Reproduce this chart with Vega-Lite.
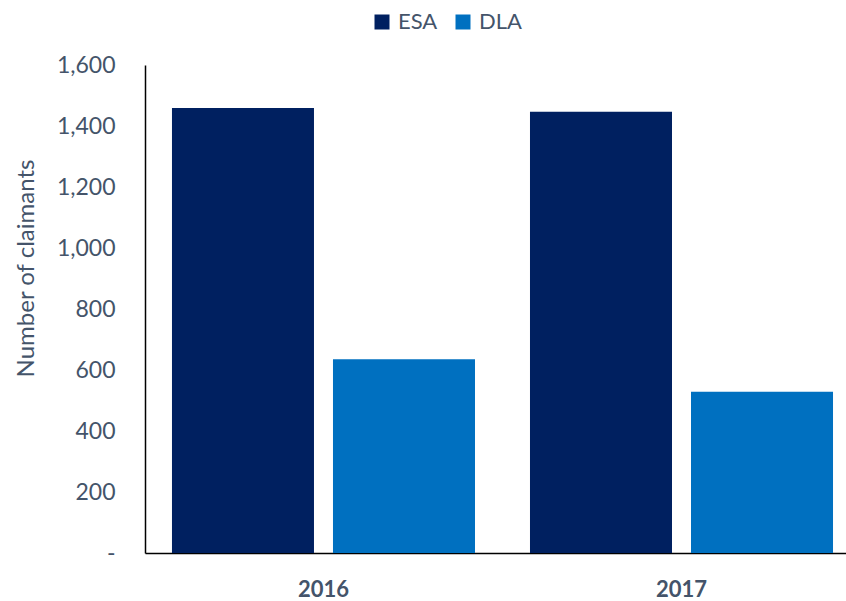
{
  "$schema": "https://vega.github.io/schema/vega-lite/v6.json",
  "autosize": {"type": "none"},
  "padding": {"left": 145, "top": 65, "right": 0, "bottom": 48},
  "width": 701,
  "height": 488,
  "background": "white",
  "config": {
    "view": {"stroke": null},
    "font": "Lato",
    "axis": {"labelFont": "Lato", "titleFont": "Lato"},
    "legend": {"labelFont": "Lato"}
  },
  "data": {
    "values": [
      {"year": "2016", "series": "ESA", "value": 1459},
      {"year": "2016", "series": "DLA", "value": 635},
      {"year": "2017", "series": "ESA", "value": 1447},
      {"year": "2017", "series": "DLA", "value": 529}
    ]
  },
  "mark": {"type": "bar"},
  "encoding": {
    "x": {
      "field": "year",
      "type": "nominal",
      "scale": {"paddingInner": 0.1536, "paddingOuter": 0.0558, "align": 0.675},
      "axis": {
        "title": null,
        "labelAngle": 0,
        "labelFontWeight": "bold",
        "labelFontSize": 22,
        "labelColor": "#44546A",
        "labelPadding": 26,
        "ticks": false,
        "domainColor": "#000000",
        "domainWidth": 1.5
      }
    },
    "xOffset": {
      "field": "series",
      "type": "nominal",
      "sort": ["ESA", "DLA"],
      "scale": {"paddingInner": 0.118, "paddingOuter": 0}
    },
    "y": {
      "field": "value",
      "type": "quantitative",
      "scale": {"domain": [0, 1600], "nice": false},
      "axis": {
        "values": [0, 200, 400, 600, 800, 1000, 1200, 1400, 1600],
        "labelExpr": "datum.value == 0 ? '-\u00a0\u00a0\u00a0' : format(datum.value, ',')",
        "grid": false,
        "ticks": false,
        "labelPadding": 30,
        "labelFontSize": 23,
        "labelColor": "#44546A",
        "domainColor": "#000000",
        "domainWidth": 1.5,
        "title": "Number  of claimants",
        "titleFontSize": 24,
        "titleFontWeight": "normal",
        "titleColor": "#44546A",
        "titleAngle": -90,
        "titleX": -112,
        "titleY": 203,
        "titleAlign": "center",
        "titleBaseline": "alphabetic"
      }
    },
    "color": {
      "field": "series",
      "type": "nominal",
      "scale": {"domain": ["ESA", "DLA"], "range": ["#002060", "#0070C0"]},
      "legend": {
        "title": null,
        "orient": "none",
        "direction": "horizontal",
        "legendX": 226,
        "legendY": -54,
        "symbolType": "square",
        "symbolSize": 225,
        "symbolStrokeWidth": 0,
        "labelFontSize": 22,
        "labelColor": "#44546A",
        "labelOffset": 5,
        "columnPadding": 14
      }
    }
  }
}
